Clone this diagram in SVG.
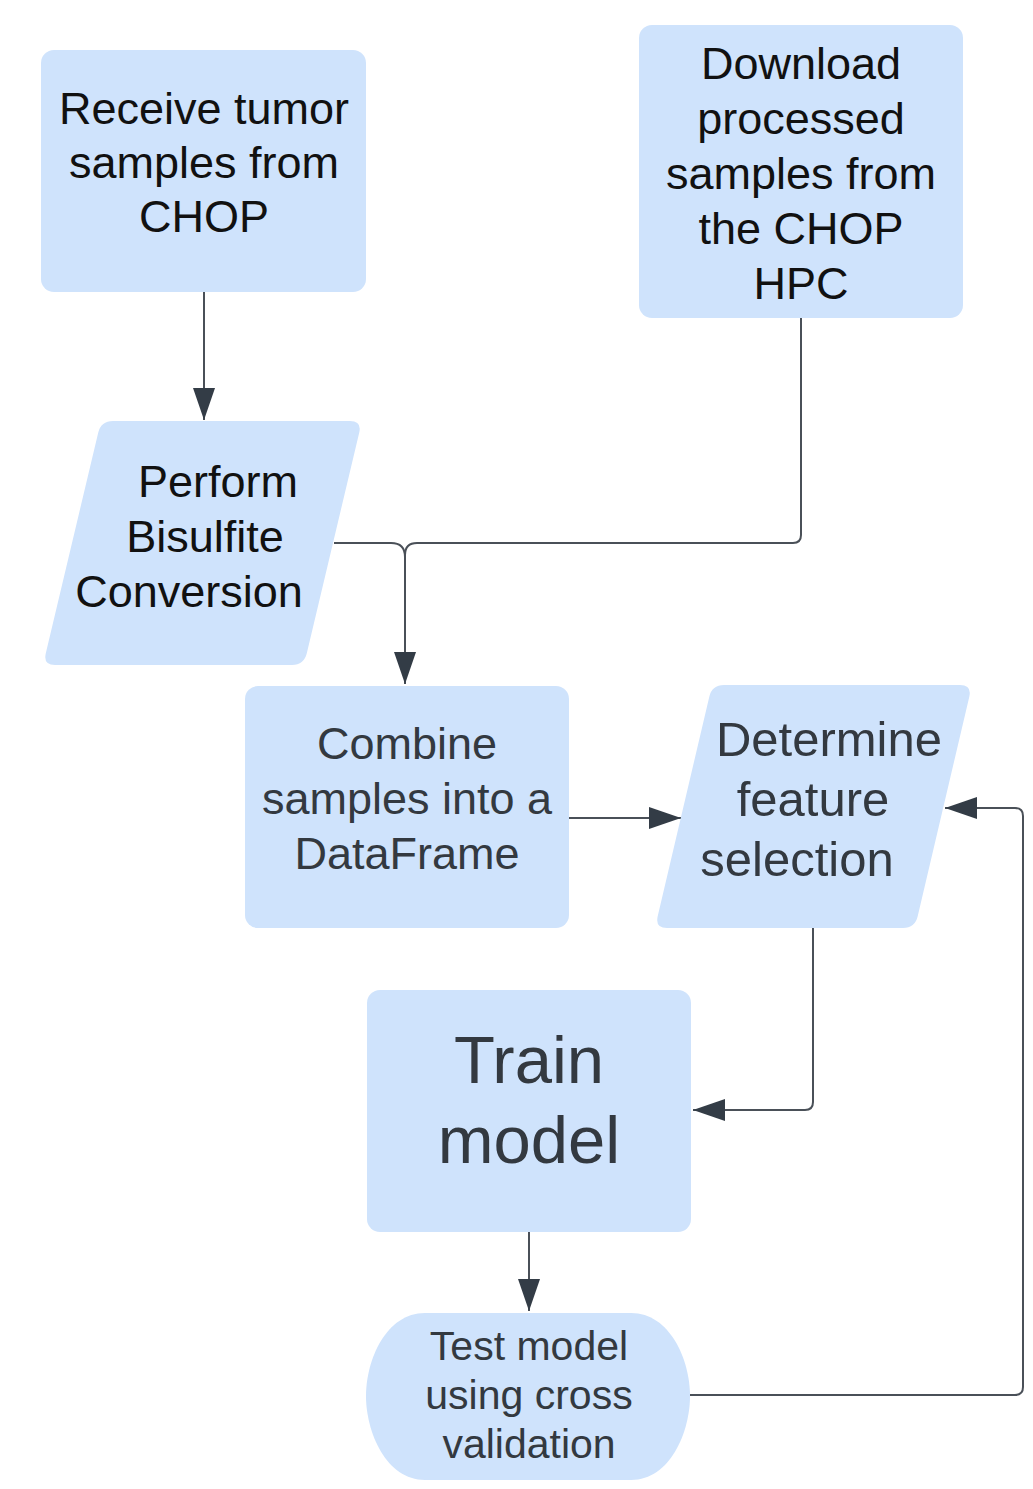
<svg xmlns="http://www.w3.org/2000/svg" width="1033" height="1489" viewBox="0 0 1033 1489">
<style>
.n{fill:#cfe3fc;stroke:none}
.t{font-family:"Liberation Sans",Arial,sans-serif;text-anchor:middle}
.k{fill:#111}
.g{fill:#333940}
.c{fill:none;stroke:#4a5058;stroke-width:2}
</style>
<defs>
<marker id="ah" markerWidth="32" markerHeight="22" refX="32" refY="11" orient="auto" markerUnits="userSpaceOnUse">
<path d="M0,0 L32,11 L0,22 Z" fill="#333c46"/>
</marker>
</defs>
<rect width="1033" height="1489" fill="#ffffff"/>
<g id="connectors">
<path class="c" d="M204,292 L204,420" marker-end="url(#ah)"/>
<path class="c" d="M334,543 L391,543 Q405,543 405,557"/>
<path class="c" d="M801,318 L801,535 Q801,543 793,543 L417,543 Q405,543 405,555 L405,684" marker-end="url(#ah)"/>
<path class="c" d="M569,818 L681,818" marker-end="url(#ah)"/>
<path class="c" d="M813,928 L813,1102 Q813,1110 805,1110 L693,1110" marker-end="url(#ah)"/>
<path class="c" d="M529,1232 L529,1311" marker-end="url(#ah)"/>
<path class="c" d="M690,1395 L1015,1395 Q1023,1395 1023,1387 L1023,816 Q1023,808 1015,808 L945,808" marker-end="url(#ah)"/>
</g>
<g id="node-receive">
<rect class="n" x="41" y="50" width="325" height="242" rx="13"/>
<text class="t k" font-size="45"><tspan x="204" y="124">Receive tumor</tspan><tspan x="204" y="178">samples from</tspan><tspan x="204" y="232">CHOP</tspan></text>
</g>
<g id="node-download">
<rect class="n" x="639" y="25" width="324" height="293" rx="13"/>
<text class="t k" font-size="45"><tspan x="801" y="79">Download</tspan><tspan x="801" y="134">processed</tspan><tspan x="801" y="189">samples from</tspan><tspan x="801" y="244">the CHOP</tspan><tspan x="801" y="299">HPC</tspan></text>
</g>
<g id="node-bisulfite">
<path class="n" d="M113,421 L350,421 Q362,421 359.2,432.7 L306.8,653.3 Q304,665 292,665 L55,665 Q43,665 45.8,653.3 L98.2,432.7 Q101,421 113,421 Z"/>
<text class="t k" font-size="45"><tspan x="218" y="497">Perform</tspan><tspan x="205" y="552">Bisulfite</tspan><tspan x="189" y="607">Conversion</tspan></text>
</g>
<g id="node-combine">
<rect class="n" x="245" y="686" width="324" height="242" rx="13"/>
<text class="t g" font-size="45"><tspan x="407" y="759">Combine</tspan><tspan x="407" y="814">samples into a</tspan><tspan x="407" y="869">DataFrame</tspan></text>
</g>
<g id="node-feature">
<path class="n" d="M724,685 L960,685 Q972,685 969.3,696.7 L917.7,916.3 Q915,928 903,928 L667,928 Q655,928 657.7,916.3 L709.3,696.7 Q712,685 724,685 Z"/>
<text class="t g" font-size="49"><tspan x="829" y="756">Determine</tspan><tspan x="813" y="816">feature</tspan><tspan x="797" y="876">selection</tspan></text>
</g>
<g id="node-train">
<rect class="n" x="367" y="990" width="324" height="242" rx="13"/>
<text class="t g" font-size="67"><tspan x="529" y="1083">Train</tspan><tspan x="529" y="1163">model</tspan></text>
</g>
<g id="node-test">
<path class="n" d="M425,1313 L631,1313 C670,1313 690,1360 690,1396 C690,1432 670,1480 631,1480 L425,1480 C386,1480 366,1432 366,1396 C366,1360 386,1313 425,1313 Z"/>
<text class="t g" font-size="41"><tspan x="529" y="1360">Test model</tspan><tspan x="529" y="1409">using cross</tspan><tspan x="529" y="1458">validation</tspan></text>
</g>
</svg>
